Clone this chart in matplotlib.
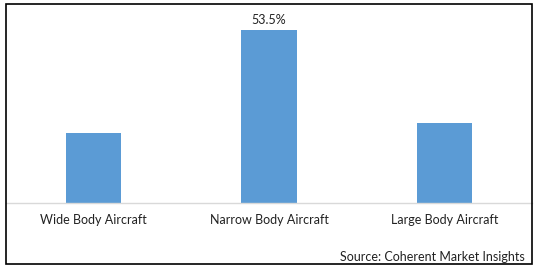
import matplotlib.pyplot as plt
from matplotlib.patches import Rectangle

categories = ['Wide Body Aircraft', 'Narrow Body Aircraft', 'Large Body Aircraft']
shares = [21.8, 53.5, 24.7]
shown_labels = {1: '53.5%'}

plt.rcParams['font.family'] = ['Lato', 'DejaVu Sans']

fig = plt.figure(figsize=(5.38, 2.72), dpi=100)
W, H = 538, 272

# axes from x=6..532 px, y=10..203 px (top-down)
ax = fig.add_axes([6 / W, (H - 203) / H, 526 / W, 193 / H])
x = list(range(len(categories)))
ax.bar(x, shares, width=0.314, color='#5b9bd5', zorder=2)
ax.set_xlim(-0.5, 2.5)
ax.set_ylim(0, 53.5 * 193 / 173)

for i, txt in shown_labels.items():
    ax.annotate(txt, (i, shares[i]), xytext=(0, 3), textcoords='offset points',
                ha='center', va='bottom', fontsize=9, color='#222222')

for s in ['top', 'right', 'left']:
    ax.spines[s].set_visible(False)
ax.spines['bottom'].set_color('#d9d9d9')
ax.spines['bottom'].set_linewidth(1)
ax.set_yticks([])
ax.set_xticks(x)
ax.set_xticklabels(categories, fontsize=9, color='#222222')
ax.tick_params(axis='x', length=0, pad=8)

fig.text(525 / W, 1 - 257 / H, 'Source: Coherent Market Insights', ha='right', va='center',
         fontsize=9, color='#222222')

fig.patches.append(Rectangle((6 / W, 1 - 264 / H), 526 / W, 260 / H, transform=fig.transFigure,
                             fill=False, edgecolor='black', linewidth=1.2))

fig.savefig('out.png', dpi=100)
